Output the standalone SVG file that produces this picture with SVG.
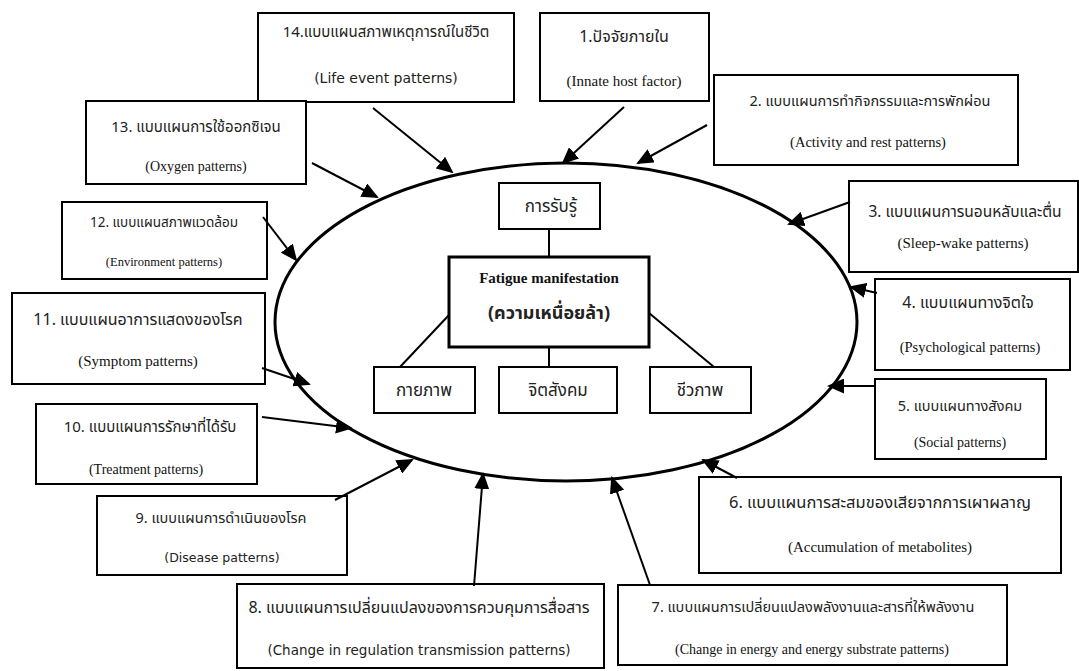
<svg xmlns="http://www.w3.org/2000/svg" width="1079" height="671" viewBox="0 0 1079 671">
<style>
.box{fill:#fff;stroke:#000;stroke-width:2}
.thick{fill:#fff;stroke:#000;stroke-width:3}
.th{font-family:"Noto Sans Thai","Loma","Garuda","Tahoma","Noto Sans",sans-serif;font-size:15px;fill:#222;text-anchor:middle}
.ens{font-family:"Liberation Serif","Times New Roman",serif;font-size:14px;fill:#111;text-anchor:middle}
.ensans{font-family:"DejaVu Sans","Noto Sans",sans-serif;font-size:13.5px;fill:#222;text-anchor:middle}
.arr{stroke:#000;stroke-width:2;fill:none;marker-end:url(#ah)}
.ln{stroke:#000;stroke-width:2;fill:none}
.bold{font-weight:bold}
</style>
<defs>
<marker id="ah" markerUnits="userSpaceOnUse" markerWidth="17" markerHeight="15" refX="15" refY="7.5" orient="auto">
<path d="M0,0 L17,7.5 L0,15 Z" fill="#000"/>
</marker>
</defs>
<rect width="1079" height="671" fill="#fff"/>

<ellipse id="ellipse" cx="566" cy="322" rx="291" ry="159" fill="none" stroke="#000" stroke-width="3"/>

<g id="n14"><rect class="box" x="258" y="13" width="256" height="89"/>
<text class="th" x="386" y="37" style="font-size:15px">14.แบบแผนสภาพเหตุการณ์ในชีวิต</text>
<text class="ensans" x="386" y="83" style="font-size:14px">(Life event patterns)</text></g>

<g id="n1"><rect class="box" x="540" y="13" width="169" height="88"/>
<text class="th" x="624" y="42" style="font-size:16px">1.ปัจจัยภายใน</text>
<text class="ens" x="624" y="86" style="font-size:15px">(Innate host factor)</text></g>

<g id="n2"><rect class="box" x="714" y="75" width="304" height="90"/>
<text class="th" x="870" y="106" style="font-size:14.5px">2. แบบแผนการทำกิจกรรมและการพักผ่อน</text>
<text class="ens" x="868" y="147" style="font-size:14.5px">(Activity and rest patterns)</text></g>

<g id="n3"><rect class="box" x="849" y="181" width="229" height="91"/>
<text class="th" x="965" y="217" style="font-size:15.5px">3. แบบแผนการนอนหลับและตื่น</text>
<text class="ens" x="963" y="248" style="font-size:15px">(Sleep-wake patterns)</text></g>

<g id="n4"><rect class="box" x="875" y="279" width="195" height="91"/>
<text class="th" x="968" y="308" style="font-size:16px">4. แบบแผนทางจิตใจ</text>
<text class="ens" x="970" y="352" style="font-size:14.5px">(Psychological patterns)</text></g>

<g id="n5"><rect class="box" x="875" y="379" width="171" height="80"/>
<text class="th" x="960" y="411" style="font-size:14.5px">5. แบบแผนทางสังคม</text>
<text class="ens" x="960" y="447">(Social patterns)</text></g>

<g id="n6"><rect class="box" x="699" y="477" width="362" height="96"/>
<text class="th" x="880" y="508" style="font-size:16.5px">6. แบบแผนการสะสมของเสียจากการเผาผลาญ</text>
<text class="ens" x="880" y="552" style="font-size:15px">(Accumulation of metabolites)</text></g>

<g id="n7"><rect class="box" x="618" y="585" width="389" height="80"/>
<text class="th" x="813" y="612" style="font-size:14.5px">7. แบบแผนการเปลี่ยนแปลงพลังงานและสารที่ให้พลังงาน</text>
<text class="ens" x="812" y="654">(Change in energy and energy substrate patterns)</text></g>

<g id="n8"><rect class="box" x="237" y="584" width="367" height="84"/>
<text class="th" x="419" y="613" style="font-size:16px">8. แบบแผนการเปลี่ยนแปลงของการควบคุมการสื่อสาร</text>
<text class="ensans" x="419" y="655" style="font-size:13.5px">(Change in regulation transmission patterns)</text></g>

<g id="n9"><rect class="box" x="97" y="496" width="250" height="79"/>
<text class="th" x="221" y="523" style="font-size:14.5px">9. แบบแผนการดำเนินของโรค</text>
<text class="ensans" x="222" y="562" style="font-size:12.5px">(Disease patterns)</text></g>

<g id="n10"><rect class="box" x="36" y="404" width="221" height="80"/>
<text class="th" x="150" y="432" style="font-size:15px">10. แบบแผนการรักษาที่ได้รับ</text>
<text class="ens" x="146" y="474">(Treatment patterns)</text></g>

<g id="n11"><rect class="box" x="12" y="293" width="253" height="91"/>
<text class="th" x="138" y="325" style="font-size:16px">11. แบบแผนอาการแสดงของโรค</text>
<text class="ens" x="138" y="366" style="font-size:15px">(Symptom patterns)</text></g>

<g id="n12"><rect class="box" x="62" y="202" width="205" height="77"/>
<text class="th" x="164" y="227" style="font-size:13.5px">12. แบบแผนสภาพแวดล้อม</text>
<text class="ens" x="164" y="266" style="font-size:12.5px">(Environment patterns)</text></g>

<g id="n13"><rect class="box" x="86" y="101" width="220" height="83"/>
<text class="th" x="196" y="132">13. แบบแผนการใช้ออกซิเจน</text>
<text class="ens" x="196" y="171">(Oxygen patterns)</text></g>

<g id="perception"><rect class="box" x="499" y="183" width="101" height="46"/>
<text class="th" x="551" y="212" style="font-size:17px">การรับรู้</text></g>

<g id="fatigue"><rect class="thick" x="449" y="257" width="200" height="90"/>
<text class="ens bold" x="549" y="283" style="font-size:15px">Fatigue manifestation</text>
<text class="th bold" x="549" y="319" style="font-size:18px">(ความเหนื่อยล้า)</text></g>

<g id="physical"><rect class="box" x="374" y="367" width="101" height="46"/>
<text class="th" x="424" y="396" style="font-size:17px">กายภาพ</text></g>

<g id="psychosocial"><rect class="box" x="499" y="367" width="118" height="46"/>
<text class="th" x="558" y="396" style="font-size:17px">จิตสังคม</text></g>

<g id="biological"><rect class="box" x="650" y="367" width="101" height="46"/>
<text class="th" x="700" y="396" style="font-size:17px">ชีวภาพ</text></g>

<g id="connectors">
<line class="ln" x1="549" y1="229" x2="549" y2="257"/>
<line class="ln" x1="449" y1="315" x2="400" y2="367"/>
<line class="ln" x1="549" y1="347" x2="549" y2="367"/>
<line class="ln" x1="649" y1="313" x2="714" y2="367"/>
<line class="arr" x1="373" y1="108" x2="452" y2="172"/>
<line class="arr" x1="624" y1="107" x2="563" y2="163"/>
<line class="arr" x1="707" y1="125" x2="638" y2="163"/>
<line class="arr" x1="312" y1="163" x2="377" y2="197"/>
<line class="arr" x1="263" y1="217" x2="296" y2="260"/>
<line class="arr" x1="850" y1="202" x2="789" y2="224"/>
<line class="arr" x1="877" y1="293" x2="851" y2="287"/>
<line class="arr" x1="875" y1="386" x2="829" y2="386"/>
<line class="arr" x1="262" y1="368" x2="309" y2="384"/>
<line class="arr" x1="262" y1="417" x2="351" y2="428"/>
<line class="arr" x1="335" y1="500" x2="412" y2="460"/>
<line class="arr" x1="474" y1="586" x2="483" y2="474"/>
<line class="arr" x1="650" y1="585" x2="612" y2="478"/>
<line class="arr" x1="737" y1="478" x2="703" y2="460"/>
</g>
</svg>
